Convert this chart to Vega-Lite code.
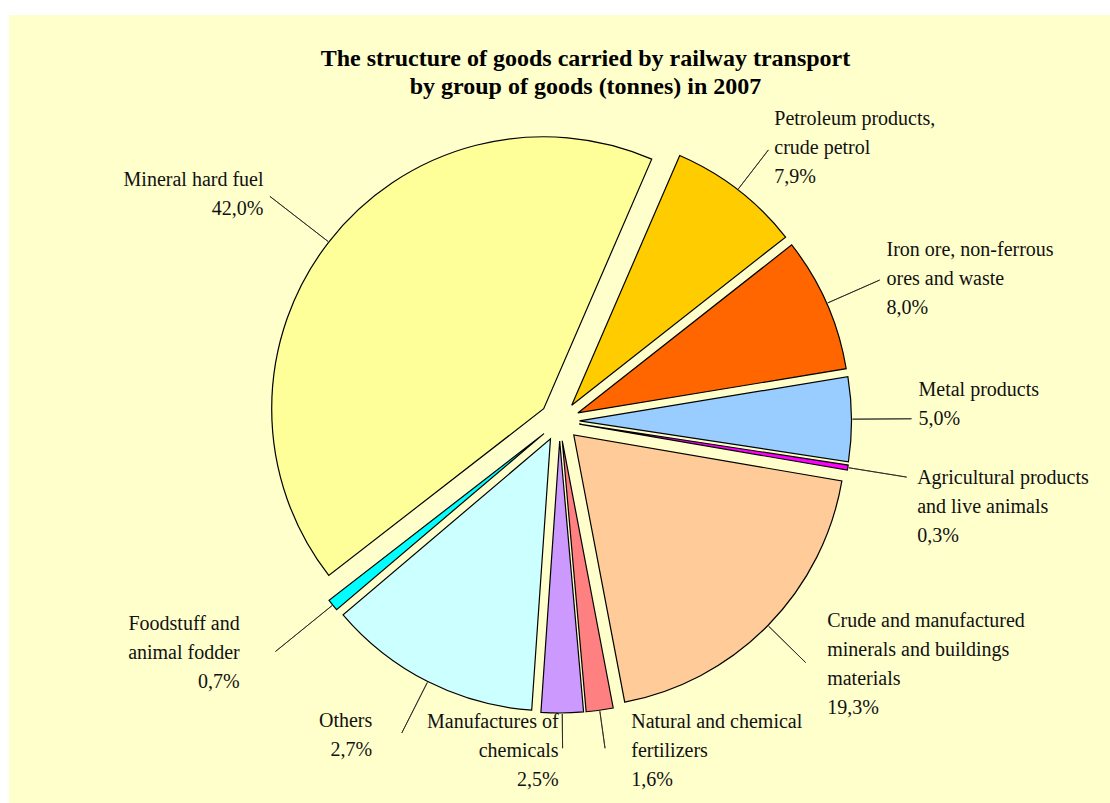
{
  "$schema": "https://vega.github.io/schema/vega-lite/v6.json",
  "autosize": "none",
  "width": 1101,
  "height": 788,
  "padding": {"left": 9, "top": 15, "right": 0, "bottom": 0},
  "background": "white",
  "view": {"fill": "#FFFFCC", "stroke": null},
  "title": {
    "text": ["The structure of goods carried by railway transport", "by group of goods (tonnes) in 2007"],
    "font": "Liberation Serif",
    "fontSize": 24,
    "fontWeight": "bold",
    "color": "black",
    "anchor": "middle",
    "lineHeight": 28,
    "dx": 26,
    "dy": 88
  },
  "data": {
    "values": [
      {"idx": 1, "group": "Petroleum products, crude petrol", "share": 7.9, "label": "Petroleum products,\ncrude petrol\n7,9%"},
      {"idx": 2, "group": "Iron ore, non-ferrous ores and waste", "share": 8.0, "label": "Iron ore, non-ferrous\nores and  waste\n8,0%"},
      {"idx": 3, "group": "Metal products", "share": 5.0, "label": "Metal products\n5,0%"},
      {"idx": 4, "group": "Agricultural products and live animals", "share": 0.3, "label": "Agricultural products\nand live animals\n0,3%"},
      {"idx": 5, "group": "Crude and manufactured minerals and buildings materials", "share": 19.3, "label": "Crude and manufactured\nminerals and buildings\nmaterials\n19,3%"},
      {"idx": 6, "group": "Natural and chemical fertilizers", "share": 1.6, "label": "Natural and chemical\nfertilizers\n1,6%"},
      {"idx": 7, "group": "Manufactures of chemicals", "share": 2.5, "label": "Manufactures of\nchemicals\n2,5%"},
      {"idx": 8, "group": "Others", "share": 12.7, "label": "Others\n2,7%"},
      {"idx": 9, "group": "Foodstuff and animal fodder", "share": 0.7, "label": "Foodstuff and\nanimal fodder\n0,7%"},
      {"idx": 10, "group": "Mineral hard fuel", "share": 42.0, "label": "Mineral hard fuel\n42,0%"}
    ]
  },
  "encoding": {
    "theta": {"field": "share", "type": "quantitative", "stack": true, "scale": {"domain": [0, 100], "range": [0.4084, 6.6916]}},
    "order": {"field": "idx", "type": "quantitative"}
  },
  "layer": [
    {
      "mark": {
        "type": "arc",
        "outerRadius": 272,
        "stroke": "black",
        "strokeWidth": 1.2,
        "xOffset": {"expr": "20*sin(0.4084 + PI*(datum.share_start + datum.share_end)/100)"},
        "yOffset": {"expr": "12 - 20*cos(0.4084 + PI*(datum.share_start + datum.share_end)/100)"}
      },
      "encoding": {
        "color": {
          "field": "group",
          "type": "nominal",
          "legend": null,
          "scale": {
            "domain": ["Petroleum products, crude petrol", "Iron ore, non-ferrous ores and waste", "Metal products", "Agricultural products and live animals", "Crude and manufactured minerals and buildings materials", "Natural and chemical fertilizers", "Manufactures of chemicals", "Others", "Foodstuff and animal fodder", "Mineral hard fuel"],
            "range": ["#FFCC00", "#FF6600", "#99CCFF", "#FF00FF", "#FFCC99", "#FF8080", "#CC99FF", "#CCFFFF", "#00FFFF", "#FFFF99"]
          }
        }
      }
    },
    {
      "mark": {
        "type": "arc",
        "innerRadius": 273,
        "outerRadius": {"expr": "307 + 50*max(0, -sin(0.4084 + PI*(datum.share_start + datum.share_end)/100)) + 25*max(0, sin(0.4084 + PI*(datum.share_start + datum.share_end)/100))"},
        "padAngle": 3.1416,
        "fillOpacity": 0,
        "stroke": "#222222",
        "strokeWidth": 0.8,
        "xOffset": {"expr": "20*sin(0.4084 + PI*(datum.share_start + datum.share_end)/100)"},
        "yOffset": {"expr": "12 - 20*cos(0.4084 + PI*(datum.share_start + datum.share_end)/100)"}
      },
      "encoding": {}
    },
    {
      "mark": {
        "type": "text",
        "radius": {"expr": "310 + 50*max(0, -sin(0.4084 + PI*(datum.share_start + datum.share_end)/100)) + 25*max(0, sin(0.4084 + PI*(datum.share_start + datum.share_end)/100))"},
        "font": "Liberation Serif",
        "fontSize": 20,
        "lineHeight": 29,
        "lineBreak": "\n",
        "baseline": "middle",
        "color": "#111111",
        "align": {"expr": "(0.4084 + PI*(datum.share_start + datum.share_end)/100) < 3.07 ? 'left' : 'right'"},
        "dx": {"expr": "(0.4084 + PI*(datum.share_start + datum.share_end)/100) < 3.07 ? (4 + 22*max(0, -cos(0.4084 + PI*(datum.share_start + datum.share_end)/100))) : -(4 + 60*max(0, -sin(0.4084 + PI*(datum.share_start + datum.share_end)/100))*max(0, -cos(0.4084 + PI*(datum.share_start + datum.share_end)/100)))"},
        "dy": {"expr": "-29*(length(split(datum.label, '\\n')) - 1) * ((cos(0.4084 + PI*(datum.share_start + datum.share_end)/100) > 0 && cos(0.4084 + PI*(datum.share_start + datum.share_end)/100) < 0.3) ? 1 : ((cos(0.4084 + PI*(datum.share_start + datum.share_end)/100) <= 0 && cos(0.4084 + PI*(datum.share_start + datum.share_end)/100) > -0.4) ? 0 : 0.5))"},
        "xOffset": {"expr": "20*sin(0.4084 + PI*(datum.share_start + datum.share_end)/100)"},
        "yOffset": {"expr": "12 - 20*cos(0.4084 + PI*(datum.share_start + datum.share_end)/100)"}
      },
      "encoding": {
        "text": {"field": "label", "type": "nominal"}
      }
    }
  ]
}
